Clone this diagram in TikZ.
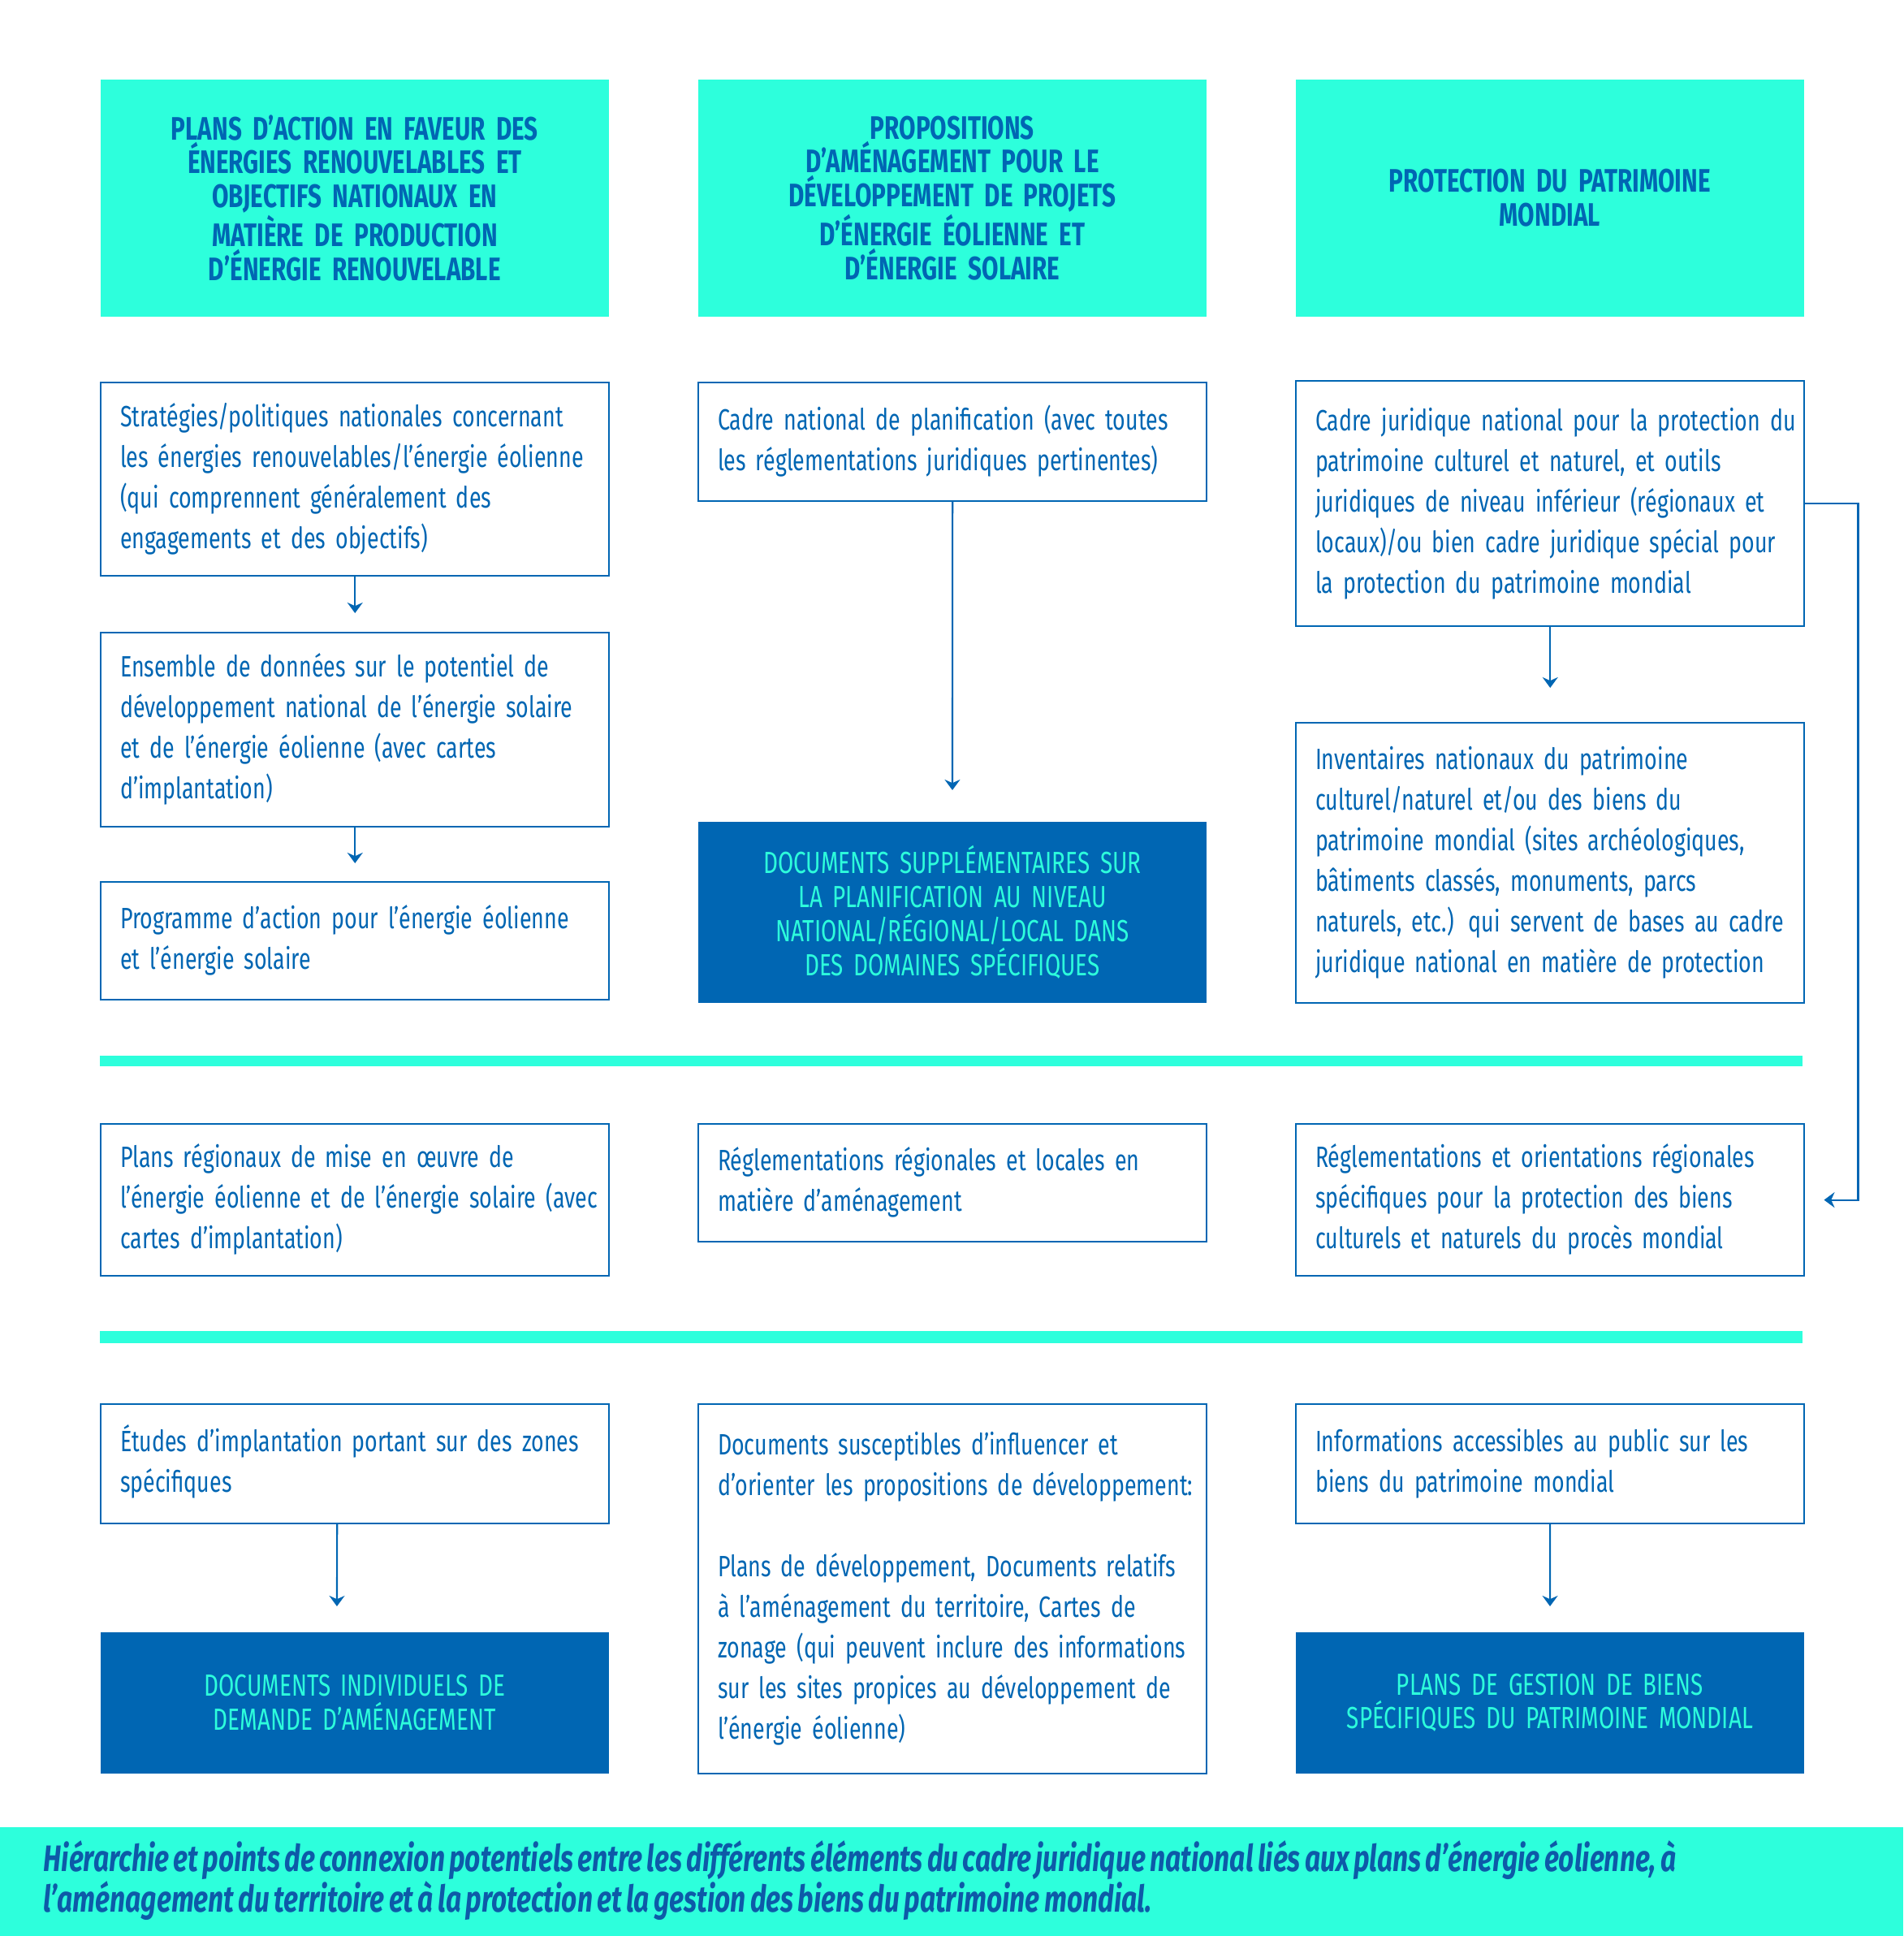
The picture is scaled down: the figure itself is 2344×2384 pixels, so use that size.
\documentclass[tikz,border=0pt]{standalone}
\usepackage{fontspec}
\setmainfont{Fira Sans}[FakeStretch=0.74, WordSpace=0.7]
\usetikzlibrary{arrows.meta, positioning}

\definecolor{mint}{HTML}{2DFFDC}
\definecolor{ublue}{HTML}{0066B3}
\definecolor{capblue}{HTML}{0D5AA8}

% lines set as given, never re-broken
\newcommand{\boxlines}[1]{\begin{tabular}{@{}l@{}}#1\end{tabular}}

\begin{document}
\begin{tikzpicture}[
  x=0.01cm, y=-0.01cm,
  box/.style={
    draw=ublue, line width=0.6pt, fill=white, text=ublue,
    text width=5.78cm, inner xsep=0.24cm, inner ysep=0pt,
    align=left, anchor=north west,
    font=\fontsize{10.3pt}{14.2pt}\selectfont
  },
  head/.style={
    fill=mint, text=ublue,
    text width=5.9cm, inner xsep=0.18cm, inner ysep=0pt,
    minimum height=2.92cm, align=center, anchor=north west,
    font=\fontsize{11.4pt}{11.8pt}\selectfont\bfseries
  },
  dark/.style={
    fill=ublue, text=mint,
    text width=5.9cm, inner xsep=0.18cm, inner ysep=0pt,
    align=center, anchor=north west,
    font=\fontsize{10.7pt}{11.9pt}\selectfont
  },
  arr/.style={
    draw=ublue, line width=0.6pt,
    -{Stealth[length=0.13cm, width=0.19cm]}
  },
]
  \useasboundingbox (0,0) rectangle (2344,2384);

  % -------------------------------------------------------
  %  Column headers
  % -------------------------------------------------------
  \node[head] (h1) at (123,97) {PLANS D’ACTION EN FAVEUR DES\\ÉNERGIES RENOUVELABLES ET\\OBJECTIFS NATIONAUX EN\\MATIÈRE DE PRODUCTION\\D’ÉNERGIE RENOUVELABLE};
  \node[head] (h2) at (859,97) {PROPOSITIONS\\D’AMÉNAGEMENT POUR LE\\DÉVELOPPEMENT DE PROJETS\\D’ÉNERGIE ÉOLIENNE ET\\D’ÉNERGIE SOLAIRE};
  \node[head] (h3) at (1595,97) {PROTECTION DU PATRIMOINE\\MONDIAL};

  % -------------------------------------------------------
  %  National level
  % -------------------------------------------------------
  \node[box, minimum height=2.38cm] (c1a) at (123,470) {\boxlines{Stratégies/politiques nationales concernant\\les énergies renouvelables/l’énergie éolienne\\(qui comprennent généralement des\\engagements et des objectifs)}};
  \node[box, minimum height=2.39cm] (c1b) at (123,778) {\boxlines{Ensemble de données sur le potentiel de\\développement national de l’énergie solaire\\et de l’énergie éolienne (avec cartes\\d’implantation)}};
  \node[box, minimum height=1.45cm] (c1c) at (123,1085) {\boxlines{Programme d’action pour l’énergie éolienne\\et l’énergie solaire}};

  \node[box, minimum height=1.46cm] (c2a) at (859,470) {\boxlines{Cadre national de planification (avec toutes\\les réglementations juridiques pertinentes)}};
  \node[dark, minimum height=2.23cm] (c2d) at (859,1011) {DOCUMENTS SUPPLÉMENTAIRES SUR\\LA PLANIFICATION AU NIVEAU\\NATIONAL/RÉGIONAL/LOCAL DANS\\DES DOMAINES SPÉCIFIQUES};

  \node[box, minimum height=3.02cm] (c3a) at (1595,468) {\boxlines{Cadre juridique national pour la protection du\\patrimoine culturel et naturel, et outils\\juridiques de niveau inférieur (régionaux et\\locaux)/ou bien cadre juridique spécial pour\\la protection du patrimoine mondial}};
  \node[box, minimum height=3.45cm] (c3b) at (1595,889) {\boxlines{Inventaires nationaux du patrimoine\\culturel/naturel et/ou des biens du\\patrimoine mondial (sites archéologiques,\\bâtiments classés, monuments, parcs\\naturels, etc.) qui servent de bases au cadre\\juridique national en matière de protection}};

  % -------------------------------------------------------
  %  Separators
  % -------------------------------------------------------
  \fill[mint] (123,1300) rectangle (2220,1313);
  \fill[mint] (123,1639) rectangle (2220,1654);

  % -------------------------------------------------------
  %  Regional level
  % -------------------------------------------------------
  \node[box, minimum height=1.87cm] (c1r) at (123,1383) {\boxlines{Plans régionaux de mise en œuvre de\\l’énergie éolienne et de l’énergie solaire (avec\\cartes d’implantation)}};
  \node[box, minimum height=1.45cm] (c2r) at (859,1383) {\boxlines{Réglementations régionales et locales en\\matière d’aménagement}};
  \node[box, minimum height=1.87cm] (c3r) at (1595,1383) {\boxlines{Réglementations et orientations régionales\\spécifiques pour la protection des biens\\culturels et naturels du procès mondial}};

  % -------------------------------------------------------
  %  Local level
  % -------------------------------------------------------
  \node[box, minimum height=1.47cm] (c1s) at (123,1728) {\boxlines{Études d’implantation portant sur des zones\\spécifiques}};
  \node[dark, minimum height=1.74cm] (c1d) at (123,2009) {DOCUMENTS INDIVIDUELS DE\\DEMANDE D’AMÉNAGEMENT};

  \node[box, minimum height=4.55cm] (c2s) at (859,1728) {\boxlines{Documents susceptibles d’influencer et\\d’orienter les propositions de développement:\\[0.5cm]Plans de développement, Documents relatifs\\à l’aménagement du territoire, Cartes de\\zonage (qui peuvent inclure des informations\\sur les sites propices au développement de\\l’énergie éolienne)}};

  \node[box, minimum height=1.47cm] (c3s) at (1595,1728) {\boxlines{Informations accessibles au public sur les\\biens du patrimoine mondial}};
  \node[dark, minimum height=1.74cm] (c3d) at (1595,2009) {PLANS DE GESTION DE BIENS\\SPÉCIFIQUES DU PATRIMOINE MONDIAL};

  % -------------------------------------------------------
  %  Connections
  % -------------------------------------------------------
  \draw[arr, shorten >=0.23cm] (c1a) -- (c1b);
  \draw[arr, shorten >=0.22cm] (c1b) -- (c1c);
  \draw[arr, shorten >=0.38cm] (c2a) -- (c2d);
  \draw[arr, shorten >=0.42cm] (c3a) -- (c3b);
  \draw[arr, shorten >=0.31cm] ([xshift=-0.22cm]c1s.south) -- ([xshift=-0.22cm]c1d.north);
  \draw[arr, shorten >=0.31cm] (c3s) -- (c3d);
  \draw[arr, shorten >=0.23cm] (c3a.east) -- ++(65,0) |- (c3r.east);

  % -------------------------------------------------------
  %  Caption band
  % -------------------------------------------------------
  \fill[mint] (0,2250) rectangle (2344,2384);
  \node[anchor=west, inner sep=0pt, align=left, text=capblue,
        font=\fontsize{12.9pt}{14.2pt}\selectfont\bfseries\itshape] (cap) at (53,2316)
    {Hiérarchie et points de connexion potentiels entre les différents éléments du cadre juridique national liés aux plans d’énergie éolienne, à\\l’aménagement du territoire et à la protection et la gestion des biens du patrimoine mondial.};

\end{tikzpicture}
\end{document}
